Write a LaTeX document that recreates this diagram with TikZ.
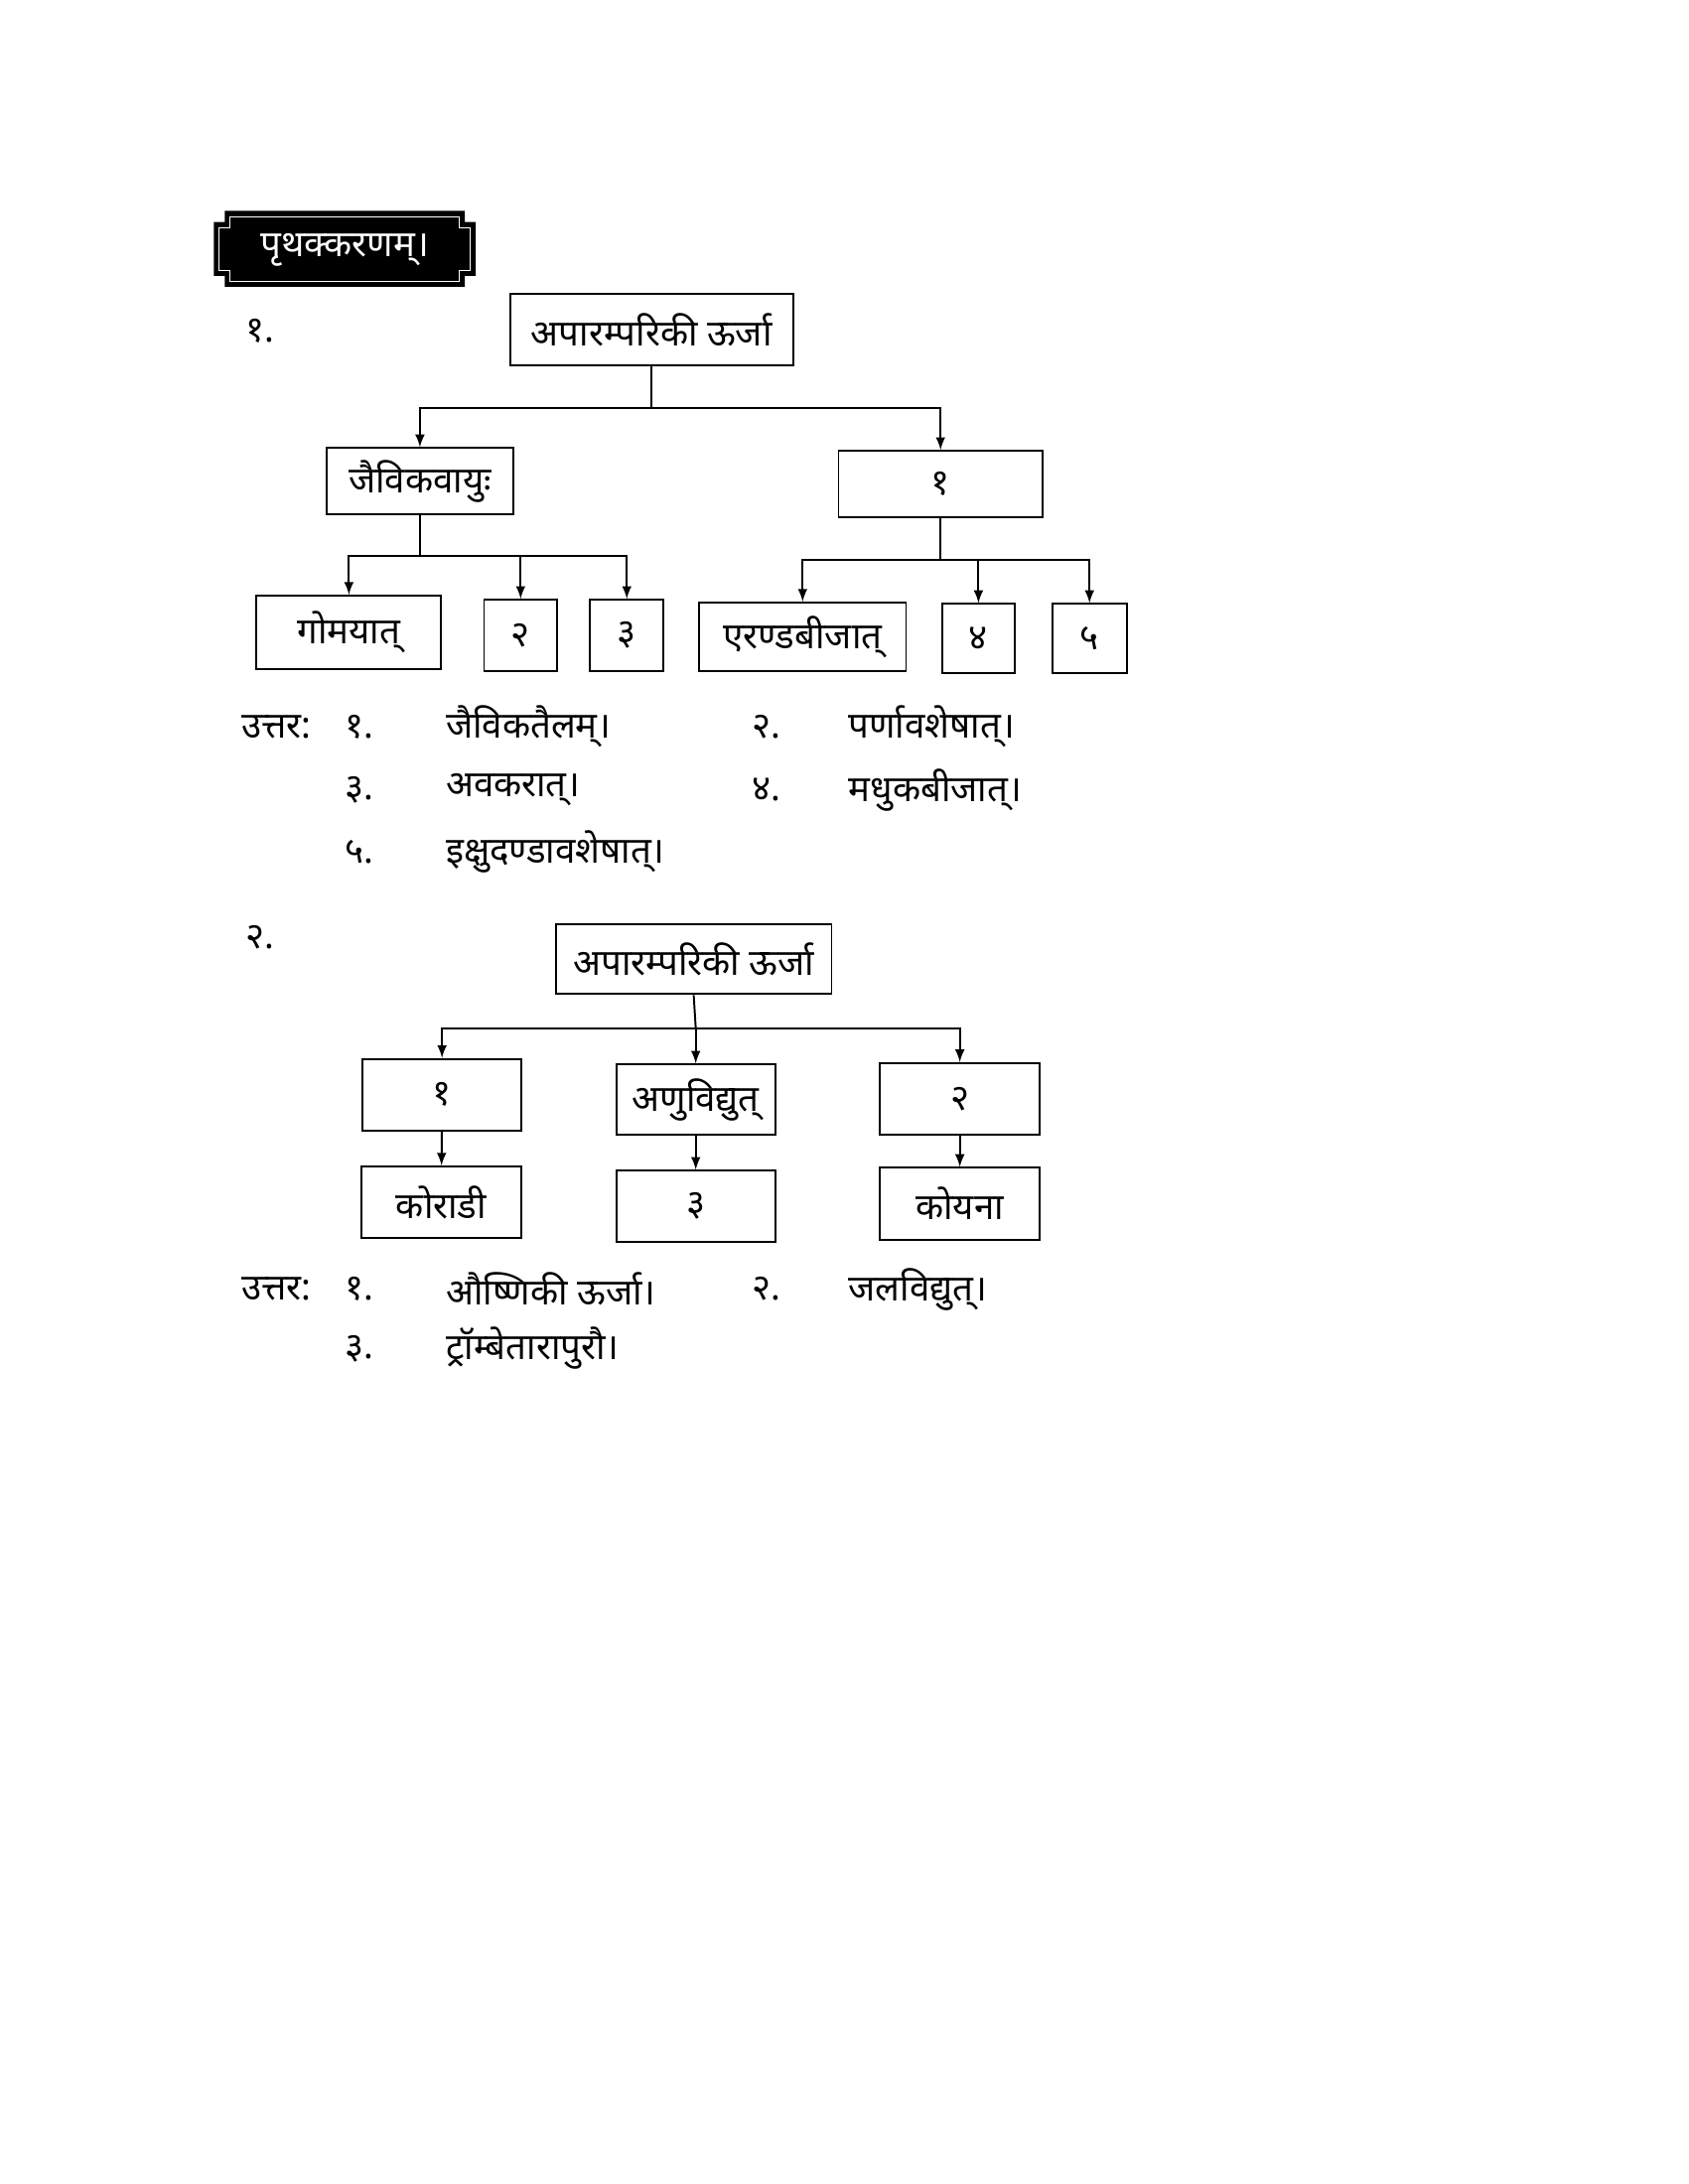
\documentclass[tikz,border=0pt]{standalone}
\usepackage{fontspec}
\newfontfamily\deva[Script=Devanagari]{Noto Sans}
\usetikzlibrary{calc}
\tikzset{
  box/.style={draw,thick,inner sep=0pt,font=\deva\fontsize{15}{18}\selectfont},
  ans/.style={anchor=west,inner sep=0pt,font=\deva\bfseries\fontsize{15}{18}\selectfont},
  num/.style={anchor=west,inner sep=0pt,font=\deva\fontsize{15}{18}\selectfont}
}
\begin{document}
\begin{tikzpicture}[x=0.02cm,y=-0.02cm,>=latex]
  \useasboundingbox (0,0) rectangle (1224,1584);
  % plaque
  \fill (163,153)--(337,153)--(337,161)--(345,161)--(345,200)--(337,200)--(337,208)--(163,208)--(163,200)--(155,200)--(155,161)--(163,161)--cycle;
  \draw[white,thin] (167,157)--(333,157)--(333,165)--(341,165)--(341,196)--(333,196)--(333,204)--(167,204)--(167,196)--(159,196)--(159,165)--(167,165)--cycle;
  \node[text=white,font=\deva\fontsize{15}{18}\selectfont] (title) at (250,181) {पृथक्करणम्।};

  % first tree
  \node[num] (q1) at (178,240) {१.};
  \node[box,minimum width=4.1cm,minimum height=1.04cm] (top1) at (472.5,239) {अपारम्परिकी ऊर्जा};
  \node[box,minimum width=2.7cm,minimum height=0.96cm] (jaiv) at (304.5,349) {जैविकवायुः};
  \node[box,minimum width=2.96cm,minimum height=0.96cm] (b1) at (682,351) {१};
  \node[box,minimum width=2.68cm,minimum height=1.06cm] (gom) at (253,458.5) {गोमयात्};
  \node[box,minimum width=1.06cm,minimum height=1.04cm] (b2) at (377.5,461) {२};
  \node[box,minimum width=1.06cm,minimum height=1.04cm] (b3) at (454.5,461) {३};
  \node[box,minimum width=3.0cm,minimum height=1.0cm] (eran) at (582,462) {एरण्डबीजात्};
  \node[box,minimum width=1.06cm,minimum height=1.0cm] (b4) at (709.5,463) {४};
  \node[box,minimum width=1.08cm,minimum height=1.0cm] (b5) at (790,463) {५};
  \coordinate (bus1) at (472.5,296);
  \coordinate (bus2) at (304.5,403);
  \coordinate (bus3) at (682,406);
  \draw[thick] (top1.south) -- (bus1);
  \draw[thick,->] (bus1) -| (jaiv.north);
  \draw[thick,->] (bus1) -| (b1.north);
  \draw[thick] (jaiv.south) -- (bus2);
  \draw[thick,->] (bus2) -| (gom.north);
  \draw[thick,->] (bus2) -| (b2.north);
  \draw[thick,->] (bus2) -| (b3.north);
  \draw[thick] (b1.south) -- (bus3);
  \draw[thick,->] (bus3) -| (eran.north);
  \draw[thick,->] (bus3) -| (b4.north);
  \draw[thick,->] (bus3) -| (b5.north);

  % answers 1
  \node[ans] (u1) at (175,527) {उत्तर:};
  \node[ans] (a1n) at (250,527) {१.};
  \node[ans] (a1) at (323,527) {जैविकतैलम्।};
  \node[ans] (a2n) at (545,527) {२.};
  \node[ans] (a2) at (615,527) {पर्णावशेषात्।};
  \node[ans] (a3n) at (250,573) {३.};
  \node[ans] (a3) at (323,573) {अवकरात्।};
  \node[ans] (a4n) at (545,573) {४.};
  \node[ans] (a4) at (615,573) {मधुकबीजात्।};
  \node[ans] (a5n) at (250,618) {५.};
  \node[ans] (a5) at (323,618) {इक्षुदण्डावशेषात्।};

  % second tree
  \node[num] (q2) at (178,680) {२.};
  \node[box,minimum width=4.0cm,minimum height=1.02cm] (top2) at (503,695.5) {अपारम्परिकी ऊर्जा};
  \node[box,minimum width=2.3cm,minimum height=1.04cm] (c1) at (320.5,794) {१};
  \node[box,minimum width=2.3cm,minimum height=1.02cm] (anu) at (504.5,797.5) {अणुविद्युत्};
  \node[box,minimum width=2.32cm,minimum height=1.04cm] (c2) at (696,797) {२};
  \node[box,minimum width=2.32cm,minimum height=1.04cm] (kor) at (320,872) {कोराडी};
  \node[box,minimum width=2.3cm,minimum height=1.04cm] (c3) at (504.5,875) {३};
  \node[box,minimum width=2.32cm,minimum height=1.04cm] (koy) at (696,873) {कोयना};
  \coordinate (bus4) at (504.5,746);
  \draw[thick] (top2.south) -- (bus4);
  \draw[thick,->] (bus4) -| (c1.north);
  \draw[thick,->] (bus4) -- (anu.north);
  \draw[thick,->] (bus4) -| (c2.north);
  \draw[thick,->] (c1) -- (kor);
  \draw[thick,->] (anu) -- (c3);
  \draw[thick,->] (c2) -- (koy);

  % answers 2
  \node[ans] (v1) at (175,935) {उत्तर:};
  \node[ans] (d1n) at (250,935) {१.};
  \node[ans] (d1) at (323,935) {औष्णिकी ऊर्जा।};
  \node[ans] (d2n) at (545,935) {२.};
  \node[ans] (d2) at (615,935) {जलविद्युत्।};
  \node[ans] (d3n) at (250,978) {३.};
  \node[ans] (d3) at (323,978) {ट्रॉम्बेतारापुरौ।};
\end{tikzpicture}
\end{document}
